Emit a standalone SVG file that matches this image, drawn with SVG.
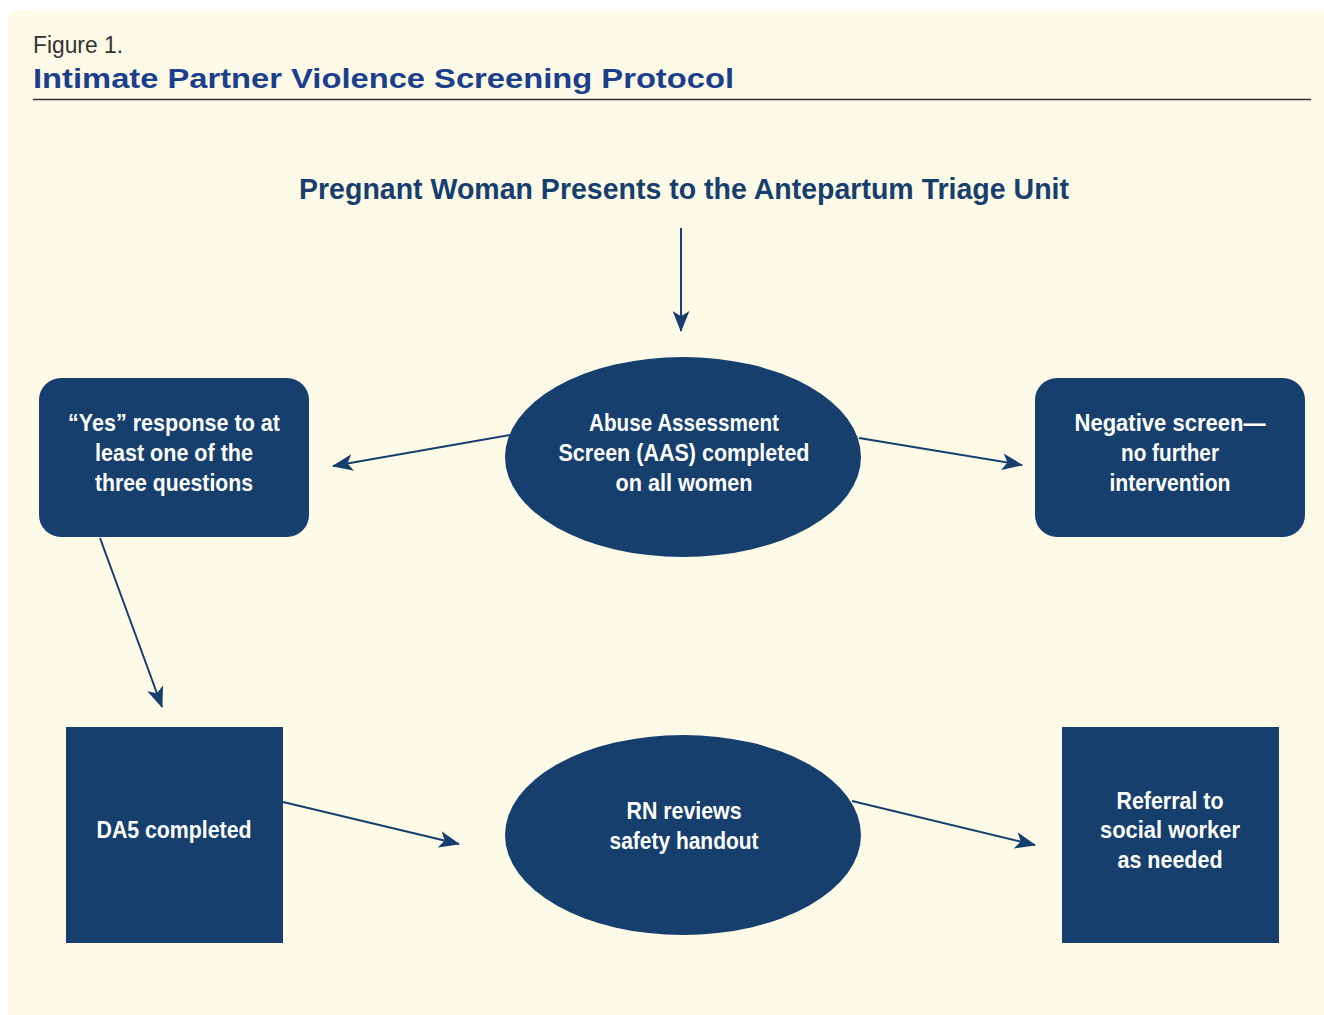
<svg xmlns="http://www.w3.org/2000/svg" width="1324" height="1015" viewBox="0 0 1324 1015">
<defs>
<style>
.node{fill:#163f6d}
.nt{font-family:"Liberation Sans",Arial,sans-serif;font-weight:bold;font-size:24px;fill:#ffffff;text-anchor:middle}
.edge{stroke:#163f6d;stroke-width:2;fill:none}
</style>
<marker id="ah" viewBox="0 0 20 16" refX="19" refY="8" markerWidth="21" markerHeight="17" markerUnits="userSpaceOnUse" orient="auto">
<path d="M0,0 L20,8 L0,16 L5,8 Z" fill="#163f6d"/>
</marker>
</defs>
<rect x="0" y="0" width="1324" height="1015" fill="#ffffff"/>
<rect x="8" y="10" width="1340" height="1030" rx="12" fill="#fefae8"/>
<g id="header">
<text x="33" y="53" font-family="Liberation Sans, Arial, sans-serif" font-size="23" fill="#333333" textLength="90" lengthAdjust="spacingAndGlyphs">Figure 1.</text>
<text x="33" y="88" font-family="Liberation Sans, Arial, sans-serif" font-size="27" font-weight="bold" fill="#1b3f8b" textLength="701" lengthAdjust="spacingAndGlyphs">Intimate Partner Violence Screening Protocol</text>
<line x1="33" y1="99.5" x2="1311" y2="99.5" stroke="#333333" stroke-width="1.5"/>
</g>
<g id="start">
<text x="684" y="199" font-family="Liberation Sans, Arial, sans-serif" font-size="30" font-weight="bold" fill="#163f6d" text-anchor="middle" textLength="770" lengthAdjust="spacingAndGlyphs">Pregnant Woman Presents to the Antepartum Triage Unit</text>
</g>
<g id="aas">
<ellipse class="node" cx="683" cy="457" rx="178" ry="100"/>
<text class="nt" x="684" y="431" textLength="190" lengthAdjust="spacingAndGlyphs">Abuse Assessment</text>
<text class="nt" x="684" y="461" textLength="251" lengthAdjust="spacingAndGlyphs">Screen (AAS) completed</text>
<text class="nt" x="684" y="491" textLength="137" lengthAdjust="spacingAndGlyphs">on all women</text>
</g>
<g id="yes">
<rect class="node" x="39" y="378" width="270" height="159" rx="22"/>
<text class="nt" x="174" y="431" textLength="212" lengthAdjust="spacingAndGlyphs">“Yes” response to at</text>
<text class="nt" x="174" y="461" textLength="158" lengthAdjust="spacingAndGlyphs">least one of the</text>
<text class="nt" x="174" y="491" textLength="158" lengthAdjust="spacingAndGlyphs">three questions</text>
</g>
<g id="negative">
<rect class="node" x="1035" y="378" width="270" height="159" rx="22"/>
<text class="nt" x="1170" y="431" textLength="191" lengthAdjust="spacingAndGlyphs">Negative screen—</text>
<text class="nt" x="1170" y="461" textLength="98" lengthAdjust="spacingAndGlyphs">no further</text>
<text class="nt" x="1170" y="491" textLength="121" lengthAdjust="spacingAndGlyphs">intervention</text>
</g>
<g id="da5">
<rect class="node" x="66" y="727" width="217" height="216"/>
<text class="nt" x="174" y="838" textLength="155" lengthAdjust="spacingAndGlyphs">DA5 completed</text>
</g>
<g id="rn">
<ellipse class="node" cx="683" cy="835" rx="178" ry="100"/>
<text class="nt" x="684" y="819" textLength="115" lengthAdjust="spacingAndGlyphs">RN reviews</text>
<text class="nt" x="684" y="849" textLength="149" lengthAdjust="spacingAndGlyphs">safety handout</text>
</g>
<g id="referral">
<rect class="node" x="1062" y="727" width="217" height="216"/>
<text class="nt" x="1170" y="809" textLength="107" lengthAdjust="spacingAndGlyphs">Referral to</text>
<text class="nt" x="1170" y="838" textLength="140" lengthAdjust="spacingAndGlyphs">social worker</text>
<text class="nt" x="1170" y="868" textLength="105" lengthAdjust="spacingAndGlyphs">as needed</text>
</g>
<g id="connectors">
<line class="edge" x1="681" y1="228" x2="681" y2="331" marker-end="url(#ah)"/>
<line class="edge" x1="510" y1="435" x2="333" y2="466" marker-end="url(#ah)"/>
<line class="edge" x1="859" y1="438" x2="1022" y2="465" marker-end="url(#ah)"/>
<line class="edge" x1="100" y1="538" x2="162" y2="707" marker-end="url(#ah)"/>
<line class="edge" x1="283" y1="802" x2="459" y2="844" marker-end="url(#ah)"/>
<line class="edge" x1="852" y1="801" x2="1035" y2="845" marker-end="url(#ah)"/>
</g>
</svg>
